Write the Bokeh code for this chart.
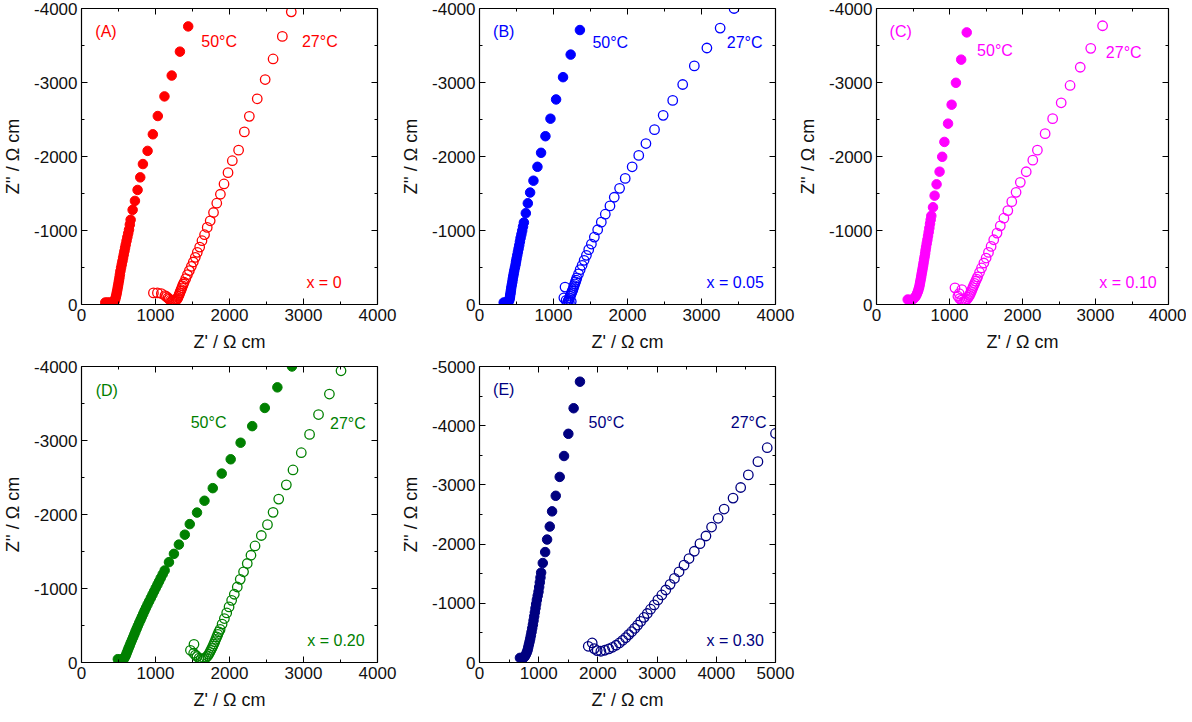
from bokeh.plotting import figure
from bokeh.models import Range1d, LinearAxis, FixedTicker, Label
from bokeh.layouts import column, row
from bokeh.embed import file_html
from bokeh.resources import INLINE

# ---------------- data (Z' , -Z'' in ohm cm) ----------------
A50x = [1442,1330,1219,1121,1031,964,893,830,794,758,722,691,664,653,642,631,620,609,598,589,580,571,562,553,544,535,526,519,513,506,499,492,486,479,473,466,459,452,446,430,410,379,350,321]
A50y = [-3758,-3417,-3094,-2812,-2547,-2300,-2076,-1898,-1718,-1548,-1400,-1279,-1145,-1078,-1010,-961,-912,-861,-810,-765,-720,-675,-630,-585,-541,-496,-452,-407,-363,-322,-282,-244,-206,-172,-139,-110,-81,-60,-40,-32,-28,-27,-27,-27]
A27x = [2835,2714,2589,2482,2375,2268,2201,2123,2038,1980,1926,1877,1828,1784,1739,1699,1663,1628,1597,1565,1538,1511,1485,1458,1432,1409,1387,1376,1365,1356,1347,1338,1329,1320,1311,1302,1293,1282,1271,1255,1240,1222,1204,1186,1168,1148,1128,1079,1026,972]
A27y = [-3955,-3623,-3318,-3040,-2780,-2543,-2332,-2086,-1943,-1782,-1629,-1490,-1369,-1243,-1131,-1042,-943,-862,-776,-705,-637,-574,-516,-458,-404,-350,-301,-276,-251,-226,-202,-180,-157,-135,-112,-94,-76,-64,-54,-48,-45,-50,-58,-73,-90,-106,-121,-148,-157,-157]

B50x = [1357,1232,1129,1035,959,891,832,783,729,684,653,626,600,588,577,566,555,546,537,528,519,510,501,494,488,479,470,463,456,449,443,436,429,424,420,415,411,406,402,390,376,350,327]
B50y = [-3709,-3377,-3072,-2771,-2511,-2274,-2050,-1861,-1673,-1513,-1368,-1234,-1108,-1052,-996,-946,-897,-848,-799,-754,-709,-664,-619,-580,-541,-500,-458,-420,-382,-342,-301,-263,-225,-190,-157,-128,-99,-76,-54,-35,-27,-27,-27]
B27x = [3440,3252,3073,2903,2746,2611,2482,2365,2249,2152,2063,1969,1893,1821,1763,1700,1646,1597,1552,1512,1476,1445,1414,1387,1360,1338,1315,1306,1297,1288,1279,1270,1262,1253,1244,1235,1226,1217,1208,1199,1190,1215,1240,1170,1140,1156]
B27y = [-4000,-3735,-3466,-3224,-2973,-2758,-2556,-2363,-2175,-2015,-1861,-1704,-1570,-1449,-1332,-1220,-1113,-1010,-911,-817,-741,-664,-597,-530,-471,-413,-359,-330,-305,-280,-256,-229,-202,-180,-157,-135,-112,-90,-67,-50,-31,-28,-40,-55,-90,-235]

C50x = [1236,1160,1088,1029,980,930,900,864,823,796,774,751,742,733,724,715,706,697,688,679,672,666,659,652,645,639,632,625,618,612,605,598,592,585,576,567,556,544,530,513,492,472,450,427]
C50y = [-3677,-3309,-2996,-2700,-2444,-2197,-1996,-1795,-1624,-1471,-1314,-1198,-1144,-1090,-1034,-978,-926,-875,-826,-777,-732,-687,-646,-606,-565,-525,-487,-449,-411,-373,-337,-301,-268,-234,-204,-175,-148,-121,-100,-81,-68,-58,-62,-67]
C27x = [3097,2935,2791,2652,2530,2413,2310,2204,2141,2051,1970,1912,1853,1799,1745,1696,1651,1606,1570,1534,1502,1471,1439,1412,1385,1372,1358,1345,1331,1320,1309,1298,1286,1273,1259,1244,1228,1210,1192,1165,1140,1115,1133,1169,1075]
C27y = [-3767,-3462,-3206,-2960,-2726,-2511,-2309,-2086,-1951,-1794,-1651,-1516,-1390,-1269,-1166,-1063,-965,-875,-785,-704,-628,-561,-494,-435,-373,-344,-314,-285,-256,-229,-202,-175,-148,-123,-99,-77,-58,-47,-40,-60,-80,-112,-148,-202,-225]

D50x = [2844,2647,2477,2307,2150,2016,1895,1774,1662,1561,1463,1396,1316,1249,1182,1124,1097,1070,1048,1026,1003,981,959,937,914,892,872,852,834,816,798,780,762,745,729,714,698,682,666,651,637,624,611,598,585,571,540,491]
D50y = [-4000,-3718,-3440,-3194,-2970,-2746,-2553,-2356,-2186,-2026,-1870,-1727,-1593,-1468,-1356,-1244,-1192,-1140,-1095,-1051,-1006,-962,-917,-872,-827,-783,-740,-698,-657,-617,-577,-537,-496,-456,-418,-380,-342,-304,-266,-228,-194,-161,-127,-94,-70,-45,-45,-45]
D27x = [3507,3350,3203,3082,2970,2858,2768,2665,2589,2513,2430,2345,2290,2240,2190,2145,2105,2065,2029,1994,1962,1931,1900,1873,1856,1842,1828,1815,1801,1788,1775,1762,1748,1735,1720,1704,1685,1664,1640,1615,1590,1561,1540,1516,1472,1520]
D27y = [-3942,-3628,-3351,-3082,-2835,-2602,-2401,-2208,-2029,-1863,-1716,-1575,-1449,-1338,-1226,-1124,-1020,-922,-840,-751,-670,-594,-519,-447,-413,-380,-346,-313,-281,-250,-220,-192,-165,-138,-112,-89,-70,-54,-48,-45,-60,-81,-100,-125,-165,-245]

E50x = [1697,1590,1501,1428,1355,1288,1226,1187,1142,1109,1069,1041,1030,1019,1008,997,983,969,957,946,935,924,913,902,890,879,868,857,846,834,823,812,798,784,765,745,715,683]
E50y = [-4743,-4295,-3863,-3488,-3135,-2816,-2553,-2296,-2077,-1865,-1680,-1517,-1435,-1354,-1275,-1197,-1127,-1057,-987,-917,-847,-778,-708,-638,-576,-514,-458,-402,-352,-302,-254,-207,-170,-134,-100,-78,-78,-78]
E27x = [5000,4860,4703,4541,4412,4283,4132,4031,3920,3825,3724,3629,3539,3455,3371,3293,3220,3147,3080,3013,2951,2890,2834,2778,2722,2671,2621,2570,2520,2470,2419,2363,2307,2246,2184,2117,2050,1988,1938,1904,1837]
E27y = [-3869,-3628,-3393,-3169,-2956,-2777,-2592,-2436,-2288,-2137,-2008,-1879,-1756,-1644,-1532,-1420,-1320,-1225,-1141,-1057,-973,-900,-828,-761,-694,-632,-576,-520,-470,-420,-375,-330,-291,-257,-229,-207,-190,-201,-235,-330,-274]

# tick positions / labels
ticks4 = [0, 1000, 2000, 3000, 4000]
ticks5 = [0, 1000, 2000, 3000, 4000, 5000]
minor4 = [500, 1500, 2500, 3500]
minor5 = [500, 1500, 2500, 3500, 4500]
x_tick_labels4 = ["0", "1000", "2000", "3000", "4000"]
x_tick_labels5 = ["0", "1000", "2000", "3000", "4000", "5000"]
y_tick_labels4 = ["0", "-1000", "-2000", "-3000", "-4000"]
y_tick_labels5 = ["0", "-1000", "-2000", "-3000", "-4000", "-5000"]

panel_letters = ["(A)", "(B)", "(C)", "(D)", "(E)"]
compositions = ["x = 0", "x = 0.05", "x = 0.10", "x = 0.20", "x = 0.30"]
temp_labels = ["50\u00b0C", "27\u00b0C"]
x_label = "Z' / \u03a9 cm"
y_label = "Z'' / \u03a9 cm"

FONT = "Liberation Sans"
FH = 296


def style_axis(ax, ticks, minor, labels, show_labels=True):
    ax.ticker = FixedTicker(ticks=ticks, minor_ticks=minor)
    ax.axis_line_color = "black"
    ax.axis_line_width = 1.2
    ax.major_tick_line_color = "black"
    ax.minor_tick_line_color = "black"
    ax.major_tick_in = 6
    ax.major_tick_out = 0
    ax.minor_tick_in = 3
    ax.minor_tick_out = 0
    ax.major_label_text_font = FONT
    ax.major_label_text_color = "#111111"
    ax.axis_label_text_font = FONT
    ax.axis_label_text_font_style = "normal"
    ax.axis_label_text_color = "#111111"
    if show_labels:
        ax.major_label_overrides = {t: s for t, s in zip(ticks, labels)}
        ax.major_label_text_font_size = "17px"
        ax.axis_label_text_font_size = "18px"
        ax.major_label_standoff = 4
        ax.axis_label_standoff = 8
    else:
        ax.major_label_overrides = {t: "" for t in ticks}
        ax.major_label_standoff = 0


def panel(x50, y50, x27, y27, color, xmax, letter, comp, lab, fw, rb, tb, bb):
    if xmax == 5000:
        xt, xm, xl, yt, ym, yl = (ticks5, minor5, x_tick_labels5,
                                  [-t for t in ticks5], [-t for t in minor5], y_tick_labels5)
    else:
        xt, xm, xl, yt, ym, yl = (ticks4, minor4, x_tick_labels4,
                                  [-t for t in ticks4], [-t for t in minor4], y_tick_labels4)
    p = figure(frame_width=fw, frame_height=FH,
               x_range=Range1d(0, xmax), y_range=Range1d(0, -xmax),
               output_backend="svg", toolbar_location=None,
               min_border_left=71, min_border_right=rb,
               min_border_top=tb, min_border_bottom=bb,
               background_fill_color="white", border_fill_color="white")
    p.grid.visible = False
    p.outline_line_color = None
    p.xaxis.axis_label = x_label
    p.yaxis.axis_label = y_label
    for ax in p.xaxis:
        style_axis(ax, xt, xm, xl)
    for ax in p.yaxis:
        style_axis(ax, yt, ym, yl)
    top = LinearAxis()
    style_axis(top, xt, xm, xl, False)
    right = LinearAxis()
    style_axis(right, yt, ym, yl, False)
    p.add_layout(top, "above")
    p.add_layout(right, "right")

    p.scatter(x50, y50, marker="circle", size=9.5, fill_color=color,
              line_color=color, line_width=1)
    p.scatter(x27, y27, marker="circle", size=9.5, fill_color=None,
              line_color=color, line_width=1.3)

    (lx, ly), (t5x, t5y), (t2x, t2y), (cx, cy) = lab

    def add(x, y, text, align):
        p.add_layout(Label(x=x, y=y, text=text, text_font=FONT,
                           text_font_size="16px", text_color=color,
                           text_align=align, text_baseline="middle"))
    add(lx, ly, letter, "left")
    add(t5x, t5y, temp_labels[0], "left")
    add(t2x, t2y, temp_labels[1], "left")
    add(cx, cy, comp, "right")
    return p


pA = panel(A50x, A50y, A27x, A27y, "#ff0000", 4000, panel_letters[0], compositions[0],
           [(187, -3688), (1619, -3553), (2979, -3553), (3514, -296)], 296, 21, 8, 53)
pB = panel(B50x, B50y, B27x, B27y, "#0000ff", 4000, panel_letters[1], compositions[1],
           [(184, -3692), (1526, -3544), (3342, -3544), (3843, -292)], 296, 20, 8, 53)
pC = panel(C50x, C50y, C27x, C27y, "#ff00ff", 4000, panel_letters[2], compositions[2],
           [(179, -3692), (1378, -3432), (3142, -3409), (3838, -292)], 292, 18, 8, 53)
pD = panel(D50x, D50y, D27x, D27y, "#008000", 4000, panel_letters[3], compositions[3],
           [(191, -3682), (1476, -3248), (3358, -3235), (3826, -295)], 296, 21, 9, 53)
pE = panel(E50x, E50y, E27x, E27y, "#000080", 5000, panel_letters[4], compositions[4],
           [(230, -4619), (1841, -4060), (4245, -4060), (4804, -369)], 296, 20, 9, 53)

layout = column(row(pA, pB, pC), row(pD, pE))

open("out.html", "w").write(file_html(layout, INLINE))
